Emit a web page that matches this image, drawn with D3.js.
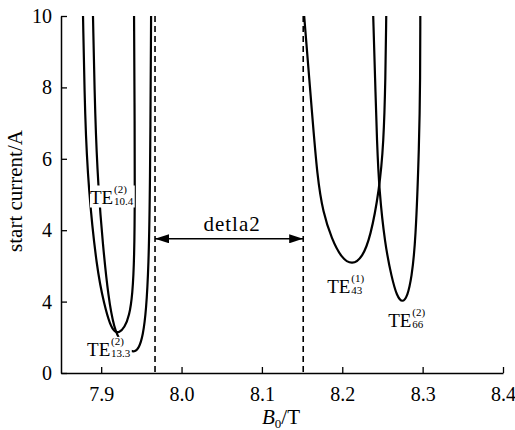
<!DOCTYPE html>
<html>
<head>
<meta charset="utf-8">
<script src="https://cdn.jsdelivr.net/npm/d3@7"></script>
<style>
  body { margin: 0; background: #fff; }
</style>
</head>
<body>
<div id="chart"></div>
<script>
// curve points: [B0 (T), start current (A)]
var te104 = [[7.8774, 10], [7.8799, 7.08], [7.8840, 5.20], [7.8945, 2.90], [7.9040, 1.90], [7.9110, 1.35],
	[7.9170, 1.14], [7.9225, 1.13], [7.9290, 1.27], [7.9350, 1.60], [7.9390, 2.20], [7.9412, 3.20],
	[7.9420, 5.0], [7.9415, 7.6], [7.9409, 10]];
var te133 = [[7.8898, 10], [7.8925, 7.08], [7.8962, 5.25], [7.9020, 3.60], [7.9090, 2.10], [7.9160, 1.25],
	[7.9245, 0.85], [7.9340, 0.64], [7.9415, 0.58], [7.9470, 0.70], [7.9520, 1.05], [7.9560, 1.75],
	[7.9590, 3.0], [7.9608, 5.0], [7.9621, 10]];
var te43 = [[8.1526, 10], [8.1626, 7.22], [8.1690, 5.48], [8.1760, 4.50], [8.1870, 3.75], [8.1990, 3.22],
	[8.2124, 3.02], [8.2250, 3.24], [8.2350, 3.80], [8.2460, 5.11], [8.2515, 6.43], [8.2538, 8.29], [8.2547, 10]];
var te66 = [[8.2385, 10], [8.2408, 8.29], [8.2432, 6.43], [8.2460, 5.11], [8.2530, 3.62], [8.2615, 2.67],
	[8.2680, 2.15], [8.2747, 1.96], [8.2812, 2.15], [8.2862, 2.67], [8.2912, 3.62], [8.2958, 6.43],
	[8.2970, 8.29], [8.2971, 10]];

var xTicks = [7.9, 8.0, 8.1, 8.2, 8.3, 8.4];
var xMinorTicks = [7.95, 8.05, 8.15, 8.25, 8.35];
var yTicks = [0, 2, 4, 6, 8, 10];
var yTickLabels = ['0', '4', '4', '6', '8', '10'];
var yMinorTicks = [1, 3, 5, 7, 9];

var dashedAt = [7.967, 8.1514];
var gapLabel = 'detla2';
var gapLevel = 3.76;

var modeNames = ['TE', 'TE', 'TE', 'TE'];
var modeSups = ['(2)', '(2)', '(1)', '(2)'];
var modeSubs = ['10.4', '13.3', '43', '66'];
var modeAt = [[7.8861, 4.72], [7.8824, 0.48], [8.1813, 2.25], [8.2572, 1.29]];

var width = 515;
var height = 430;
var padLeft = 61, padRight = 12, padTop = 16, padBottom = 57;
var serif = 'Liberation Serif';

var svg = d3.select('#chart')
	.append('svg')
	.attr('width', width)
	.attr('height', height);

var x = d3.scaleLinear()
	.domain([7.85, 8.4])
	.range([padLeft, width - padRight]);

var y = d3.scaleLinear()
	.domain([0, 10])
	.range([height - padBottom, padTop]);

var defs = svg.append('defs');
defs.append('clipPath')
	.attr('id', 'plot')
	.append('rect')
	.attr('x', padLeft)
	.attr('y', padTop)
	.attr('width', width - padLeft - padRight)
	.attr('height', height - padTop - padBottom);

// axes, ticks pointing inward
var xAxis = d3.axisBottom(x).tickValues(xTicks).tickFormat(d3.format('.1f'))
	.tickSizeInner(-6).tickSizeOuter(0).tickPadding(14);
var xMinor = d3.axisBottom(x).tickValues(xMinorTicks).tickFormat('')
	.tickSizeInner(-4).tickSizeOuter(0);
var yAxis = d3.axisLeft(y).tickValues(yTicks).tickFormat(function (d, i) { return yTickLabels[i]; })
	.tickSizeInner(-6).tickSizeOuter(0).tickPadding(9);
var yMinor = d3.axisLeft(y).tickValues(yMinorTicks).tickFormat('')
	.tickSizeInner(-4).tickSizeOuter(0);

var gx = svg.append('g').attr('transform', 'translate(0,' + (height - padBottom) + ')');
gx.call(xMinor);
gx.call(xAxis);
var gy = svg.append('g').attr('transform', 'translate(' + padLeft + ',0)');
gy.call(yMinor);
gy.call(yAxis);

svg.selectAll('.domain').attr('stroke', '#000').attr('stroke-width', 1.5);
svg.selectAll('.tick line').attr('stroke', '#000').attr('stroke-width', 1.3);
svg.selectAll('.tick text')
	.style('font-family', serif)
	.style('font-size', '20px')
	.attr('fill', '#000');

// dashed guides
svg.selectAll('.guide')
	.data(dashedAt)
	.enter()
	.append('line')
	.attr('class', 'guide')
	.attr('x1', function (d) { return x(d); })
	.attr('x2', function (d) { return x(d); })
	.attr('y1', y(10))
	.attr('y2', y(0))
	.attr('stroke', '#000')
	.attr('stroke-width', 1.6)
	.attr('stroke-dasharray', '6,4');

// curves
var line = d3.line()
	.x(function (d) { return x(d[0]); })
	.y(function (d) { return y(d[1]); })
	.curve(d3.curveBasis);

svg.append('g')
	.attr('clip-path', 'url(#plot)')
	.selectAll('path')
	.data([te104, te133, te43, te66])
	.enter()
	.append('path')
	.attr('d', line)
	.attr('fill', 'none')
	.attr('stroke', '#000')
	.attr('stroke-width', 2.2);

// mode labels with white backing
modeAt.forEach(function (p, i) {
	var g = svg.append('g');
	var bg = g.append('rect').attr('fill', '#fff');
	var px = x(p[0]), py = y(p[1]);
	g.append('text')
		.attr('x', px)
		.attr('y', py)
		.style('font-family', serif)
		.style('font-size', '19px')
		.text(modeNames[i]);
	g.append('text')
		.attr('x', px + 24)
		.attr('y', py - 11)
		.style('font-family', serif)
		.style('font-size', '11px')
		.text(modeSups[i]);
	g.append('text')
		.attr('x', px + 24)
		.attr('y', py + 1)
		.style('font-family', serif)
		.style('font-size', '11px')
		.text(modeSubs[i]);
	if (i < 2) {
		var b = g.node().getBBox();
		bg.attr('x', b.x).attr('y', b.y + 2).attr('width', b.width + 1).attr('height', b.height - 3);
	}
});

// gap arrow
defs.append('marker')
	.attr('id', 'head')
	.attr('viewBox', '0 0 14 9')
	.attr('refX', 14)
	.attr('refY', 4.5)
	.attr('markerWidth', 14)
	.attr('markerHeight', 9)
	.attr('markerUnits', 'userSpaceOnUse')
	.attr('orient', 'auto-start-reverse')
	.append('path')
	.attr('d', 'M0,0L14,4.5L0,9Z')
	.attr('fill', '#000');

svg.append('line')
	.attr('x1', x(dashedAt[0]))
	.attr('x2', x(dashedAt[1]))
	.attr('y1', y(gapLevel))
	.attr('y2', y(gapLevel))
	.attr('stroke', '#000')
	.attr('stroke-width', 1.5)
	.attr('marker-start', 'url(#head)')
	.attr('marker-end', 'url(#head)');

svg.append('text')
	.attr('x', (x(dashedAt[0]) + x(dashedAt[1])) / 2 + 3)
	.attr('y', y(gapLevel) - 8)
	.attr('text-anchor', 'middle')
	.style('font-family', serif)
	.style('font-size', '21px')
	.style('letter-spacing', '1px')
	.text(gapLabel);

// axis titles
var xt = svg.append('text')
	.attr('x', 281)
	.attr('y', 424)
	.attr('text-anchor', 'middle')
	.style('font-family', serif)
	.style('font-size', '21px');
xt.append('tspan').style('font-style', 'italic').text('B');
xt.append('tspan').attr('dy', 4).style('font-size', '13px').text('0');
xt.append('tspan').attr('dy', -4).text('/T');

svg.append('text')
	.attr('transform', 'translate(22,191) rotate(-90)')
	.attr('text-anchor', 'middle')
	.style('font-family', serif)
	.style('font-size', '21px')
	.text('start current/A');
</script>
</body>
</html>
